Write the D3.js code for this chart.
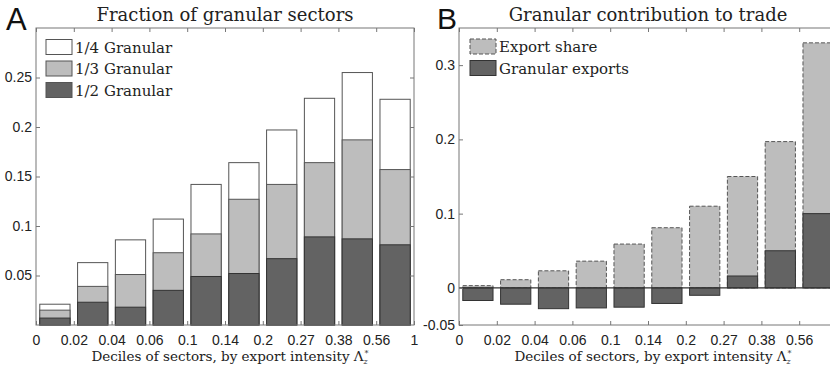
<!DOCTYPE html>
<html>
<head>
<meta charset="utf-8">
<script src="https://cdn.jsdelivr.net/npm/d3@7"></script>
<style>
  html, body { margin: 0; padding: 0; background: #fff; }
  svg { display: block; }
</style>
</head>
<body>
<svg id="chart" width="830" height="367"></svg>
<script>
// ---------- DATA ----------
const decileLabels = ["0", "0.02", "0.04", "0.06", "0.1", "0.14", "0.2", "0.27", "0.38", "0.56", "1"];
const deciles = [1, 2, 3, 4, 5, 6, 7, 8, 9, 10];

// Panel A: fraction of granular sectors
const quarterGranular = [0.021, 0.063, 0.086, 0.107, 0.142, 0.164, 0.197, 0.229, 0.255, 0.228];
const thirdGranular   = [0.015, 0.039, 0.051, 0.073, 0.092, 0.127, 0.142, 0.164, 0.187, 0.157];
const halfGranular    = [0.007, 0.023, 0.018, 0.035, 0.049, 0.052, 0.067, 0.089, 0.087, 0.081];
const panelATicks = [0.05, 0.1, 0.15, 0.2, 0.25];

// Panel B: granular contribution to trade
const exportShare     = [0.003, 0.011, 0.023, 0.036, 0.059, 0.081, 0.110, 0.150, 0.197, 0.330];
const granularExports = [-0.017, -0.022, -0.028, -0.027, -0.026, -0.021, -0.010, 0.016, 0.050, 0.100];
const panelBTicks = [-0.05, 0, 0.1, 0.2, 0.3];

const legendA = ["1/4 Granular", "1/3 Granular", "1/2 Granular"];
const legendB = ["Export share", "Granular exports"];

// ---------- STYLE ----------
const svg = d3.select("#chart");
const SERIF = "'DejaVu Serif', serif";
const SANS = "'Liberation Sans', Arial, sans-serif";
const LIGHT = "#bdbdbd", DARK = "#636363", AXIS = "#777";
const TOP = 28, BOTTOM = 325, PW = 378;

function drawAxes(g, x, y, yTicks) {
  const xt = d3.range(0.5, 10.51, 1);
  const fmt = (i) => decileLabels[xt.indexOf(i)];
  const xb = g.append("g").attr("transform", `translate(0,${BOTTOM})`)
    .call(d3.axisBottom(x).tickValues(xt).tickFormat(fmt).tickSize(-4).tickSizeOuter(0).tickPadding(10));
  const xtp = g.append("g").attr("transform", `translate(0,${TOP})`)
    .call(d3.axisTop(x).tickValues(xt).tickFormat("").tickSize(-4).tickSizeOuter(0));
  const yl = g.append("g").attr("transform", `translate(${x.range()[0]},0)`)
    .call(d3.axisLeft(y).tickValues(yTicks).tickFormat(d => String(d)).tickSize(-4).tickSizeOuter(0).tickPadding(4));
  const yr = g.append("g").attr("transform", `translate(${x.range()[1]},0)`)
    .call(d3.axisRight(y).tickValues(yTicks).tickFormat("").tickSize(-4).tickSizeOuter(0));
  [xb, xtp, yl, yr].forEach(a => {
    a.attr("font-family", SANS).attr("font-size", 14);
    a.select(".domain").remove();
    a.selectAll("line").attr("stroke", AXIS);
    a.selectAll("text").attr("fill", "#222");
  });
  g.append("rect")
    .attr("x", x.range()[0]).attr("y", TOP)
    .attr("width", x.range()[1] - x.range()[0]).attr("height", BOTTOM - TOP)
    .attr("fill", "none").attr("stroke", AXIS).attr("stroke-width", 1);
}

function xLabel(g, cx) {
  const t = g.append("text").attr("x", cx).attr("y", 361).attr("text-anchor", "middle")
    .attr("font-family", SERIF).attr("font-size", 13.5).attr("fill", "#222");
  t.append("tspan").text("Deciles of sectors, by export intensity Λ");
  t.append("tspan").attr("font-size", 8).attr("dx", 1).attr("dy", -5).text("*");
  t.append("tspan").attr("font-size", 8).attr("dx", -5).attr("dy", 8).attr("font-style", "italic").text("z");
}

// ---------- PANEL A ----------
{
  const g = svg.append("g");
  const x = d3.scaleLinear().domain([0.5, 10.5]).range([36, 36 + PW]);
  const y = d3.scaleLinear().domain([0, 0.3]).range([BOTTOM, TOP]);
  const bw = x(1.4) - x(0.6);
  const series = [
    { vals: quarterGranular, fill: "#fff", stroke: "#555" },
    { vals: thirdGranular, fill: LIGHT, stroke: "#555" },
    { vals: halfGranular, fill: DARK, stroke: "#333" }
  ];
  series.forEach(s => {
    g.append("g").selectAll("rect").data(deciles).join("rect")
      .attr("x", d => x(d - 0.4)).attr("width", bw)
      .attr("y", (d, i) => y(s.vals[i])).attr("height", (d, i) => y(0) - y(s.vals[i]))
      .attr("fill", s.fill).attr("stroke", s.stroke).attr("stroke-width", 1);
  });
  drawAxes(g, x, y, panelATicks);

  const lg = g.append("g");
  legendA.forEach((name, i) => {
    const cy = 47 + i * 21.5;
    lg.append("rect").attr("x", 46).attr("y", cy - 7.5).attr("width", 26).attr("height", 15)
      .attr("fill", series[i].fill).attr("stroke", "#555");
    lg.append("text").attr("x", 75).attr("y", cy + 5.5).attr("font-family", SERIF)
      .attr("font-size", 15).attr("fill", "#222").text(name);
  });

  g.append("text").attr("x", 225).attr("y", 21).attr("text-anchor", "middle")
    .attr("font-family", SERIF).attr("font-size", 18).attr("fill", "#222")
    .text("Fraction of granular sectors");
  g.append("text").attr("x", 6).attr("y", 30).attr("font-family", SANS)
    .attr("font-size", 31).attr("fill", "#111").text("A");
  xLabel(g, 230);
}

// ---------- PANEL B ----------
{
  const g = svg.append("g");
  const x = d3.scaleLinear().domain([0.5, 10.5]).range([459, 459 + PW]);
  const y = d3.scaleLinear().domain([-0.05, 0.35]).range([BOTTOM, TOP]);
  const bw = x(1.4) - x(0.6);
  g.append("g").selectAll("rect").data(deciles).join("rect")
    .attr("x", d => x(d - 0.4)).attr("width", bw)
    .attr("y", (d, i) => y(Math.max(0, exportShare[i])))
    .attr("height", (d, i) => Math.abs(y(0) - y(exportShare[i])))
    .attr("fill", LIGHT).attr("stroke", "#555").attr("stroke-dasharray", "4,2");
  g.append("g").selectAll("rect").data(deciles).join("rect")
    .attr("x", d => x(d - 0.4)).attr("width", bw)
    .attr("y", (d, i) => y(Math.max(0, granularExports[i])))
    .attr("height", (d, i) => Math.abs(y(0) - y(granularExports[i])))
    .attr("fill", DARK).attr("stroke", "#333");
  g.append("line").attr("x1", x.range()[0]).attr("x2", x.range()[1])
    .attr("y1", y(0)).attr("y2", y(0)).attr("stroke", "#333").attr("stroke-width", 1.2);
  drawAxes(g, x, y, panelBTicks);

  const lg = g.append("g");
  legendB.forEach((name, i) => {
    const cy = 46.5 + i * 21.5;
    const r = lg.append("rect").attr("x", 470).attr("y", cy - 7.5).attr("width", 26).attr("height", 15)
      .attr("fill", i === 0 ? LIGHT : DARK).attr("stroke", i === 0 ? "#555" : "#333");
    if (i === 0) r.attr("stroke-dasharray", "4,2");
    lg.append("text").attr("x", 499).attr("y", cy + 5.5).attr("font-family", SERIF)
      .attr("font-size", 15).attr("fill", "#222").text(name);
  });

  g.append("text").attr("x", 648).attr("y", 21).attr("text-anchor", "middle")
    .attr("font-family", SERIF).attr("font-size", 18).attr("fill", "#222")
    .text("Granular contribution to trade");
  g.append("text").attr("x", 437).attr("y", 29).attr("font-family", SANS)
    .attr("font-size", 30).attr("fill", "#111").text("B");
  xLabel(g, 653);
}
</script>
</body>
</html>
